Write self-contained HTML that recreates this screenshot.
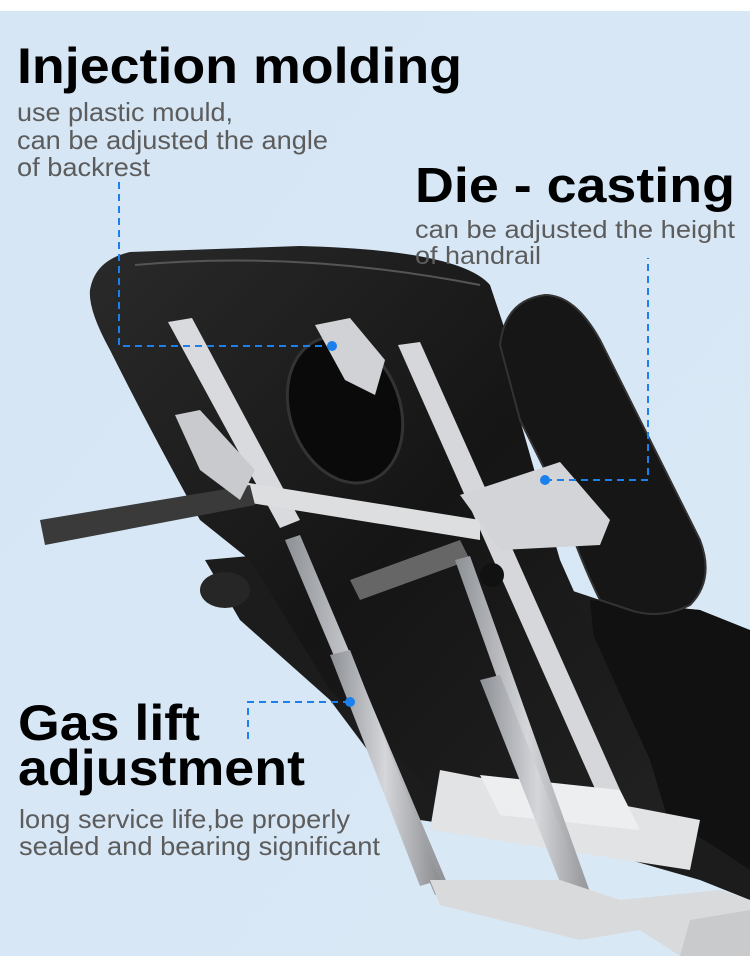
<!DOCTYPE html>
<html><head><meta charset="utf-8"><style>
html,body{margin:0;padding:0;background:#fff}
svg{display:block}
</style></head><body>
<svg width="750" height="969" viewBox="0 0 750 969" xmlns="http://www.w3.org/2000/svg">
<defs>
<linearGradient id="bg" x1="0" y1="0" x2="1" y2="1">
<stop offset="0" stop-color="#d6e6f5"/><stop offset="1" stop-color="#d9e8f5"/></linearGradient>
<linearGradient id="blk" x1="0" y1="0" x2="1" y2="1">
<stop offset="0" stop-color="#2a2a2a"/><stop offset="0.5" stop-color="#151515"/><stop offset="1" stop-color="#222"/></linearGradient>
<linearGradient id="cyl" x1="0" y1="0" x2="1" y2="0">
<stop offset="0" stop-color="#8d9095"/><stop offset="0.5" stop-color="#d4d6da"/><stop offset="1" stop-color="#8a8c90"/></linearGradient>
</defs>
<rect x="0" y="11" width="750" height="945" fill="url(#bg)"/>

<polygon points="205,560 260,555 480,560 600,600 700,610 750,640 750,900 700,880 560,840 420,820 330,700 240,620" fill="#1c1c1c"/>
<ellipse cx="225" cy="590" rx="25" ry="18" fill="#262626"/>
<polygon points="590,600 700,610 750,630 750,870 720,850 640,800 600,700" fill="#111"/>
<path d="M90,290 Q95,260 130,252 L300,246 Q460,250 490,285 L505,330 L520,420 L560,560 L600,650 L650,760 L680,860 L560,840 L440,800 L330,690 L250,560 L200,520 Q150,430 110,350 Q88,310 90,290 Z" fill="url(#blk)"/>
<path d="M135,265 Q300,250 480,285" stroke="#555" stroke-width="2" fill="none"/>
<ellipse cx="345" cy="410" rx="55" ry="75" transform="rotate(-20 345 410)" fill="#0a0a0a" stroke="#333" stroke-width="3"/>
<path d="M500,345 Q505,300 545,295 Q575,295 600,340 L700,540 Q715,580 690,605 Q660,620 630,610 L600,600 Q580,560 560,500 L520,420 Z" fill="#161616" stroke="#333" stroke-width="2"/>
<polygon points="168,322 192,318 300,520 280,528" fill="#d8dadd"/>
<polygon points="398,345 420,342 620,790 600,800" fill="#d5d7da"/>
<polygon points="230,480 480,520 480,540 232,500" fill="#dcdee0"/>
<polygon points="40,520 250,485 255,505 45,545" fill="#3a3a3a"/>
<polygon points="175,415 200,410 255,470 240,500 200,470" fill="#c8cacd"/>
<polygon points="460,495 560,462 610,520 600,545 500,550" fill="#d2d4d7"/>
<polygon points="350,580 460,540 470,560 360,600" fill="#666"/>
<polygon points="315,325 350,318 385,360 375,395 345,380" fill="#d0d2d5"/>
<polygon points="440,770 700,820 690,870 430,830" fill="#e1e3e5"/>
<polygon points="480,775 620,790 640,830 500,815" fill="#eceef0"/>
<polygon points="285,540 300,535 450,890 435,895" fill="url(#cyl)"/>
<polygon points="330,655 350,650 440,880 420,886" fill="url(#cyl)"/>
<polygon points="455,560 470,556 600,920 585,925" fill="url(#cyl)"/>
<polygon points="480,680 500,675 595,915 575,920" fill="url(#cyl)"/>
<circle cx="492" cy="575" r="12" fill="#111"/>
<polygon points="430,880 560,880 620,900 720,890 750,900 750,956 680,956 640,930 580,940 500,920 440,905" fill="#d8dadc"/>
<polygon points="690,920 750,910 750,956 680,956" fill="#c8cacc"/>

<g stroke="#1b80ec" stroke-width="2" stroke-dasharray="7,5" fill="none">
<polyline points="119,182 119,346 332,346"/>
<polyline points="545,480 648,480 648,258"/>
<polyline points="350,702 248,702 248,740"/>
</g>
<g fill="#1b80ec"><circle cx="332" cy="346" r="5"/><circle cx="545" cy="480" r="5"/><circle cx="350" cy="702" r="5"/></g>

<g font-family="Liberation Sans, sans-serif">
<text x="17" y="83" font-size="50" font-weight="bold" fill="#000" textLength="445" lengthAdjust="spacingAndGlyphs">Injection molding</text>
<g font-size="26" fill="#5c5c5c">
<text x="17" y="121" textLength="216" lengthAdjust="spacingAndGlyphs">use plastic mould,</text>
<text x="17" y="149" textLength="311" lengthAdjust="spacingAndGlyphs">can be adjusted the angle</text>
<text x="17" y="176" textLength="133" lengthAdjust="spacingAndGlyphs">of backrest</text>
</g>
<text x="415" y="202" font-size="49" font-weight="bold" fill="#000" textLength="320" lengthAdjust="spacingAndGlyphs">Die - casting</text>
<g font-size="25" fill="#5c5c5c">
<text x="415" y="238" textLength="320" lengthAdjust="spacingAndGlyphs">can be adjusted the height</text>
<text x="415" y="264" textLength="126" lengthAdjust="spacingAndGlyphs">of handrail</text>
</g>
<text x="18" y="740" font-size="50" font-weight="bold" fill="#000" textLength="182" lengthAdjust="spacingAndGlyphs">Gas lift</text>
<text x="18" y="785" font-size="50" font-weight="bold" fill="#000" textLength="287" lengthAdjust="spacingAndGlyphs">adjustment</text>
<g font-size="26" fill="#5c5c5c">
<text x="19" y="828" textLength="331" lengthAdjust="spacingAndGlyphs">long service life,be properly</text>
<text x="19" y="855" textLength="361" lengthAdjust="spacingAndGlyphs">sealed and bearing significant</text>
</g>
</g>
</svg>
</body></html>
